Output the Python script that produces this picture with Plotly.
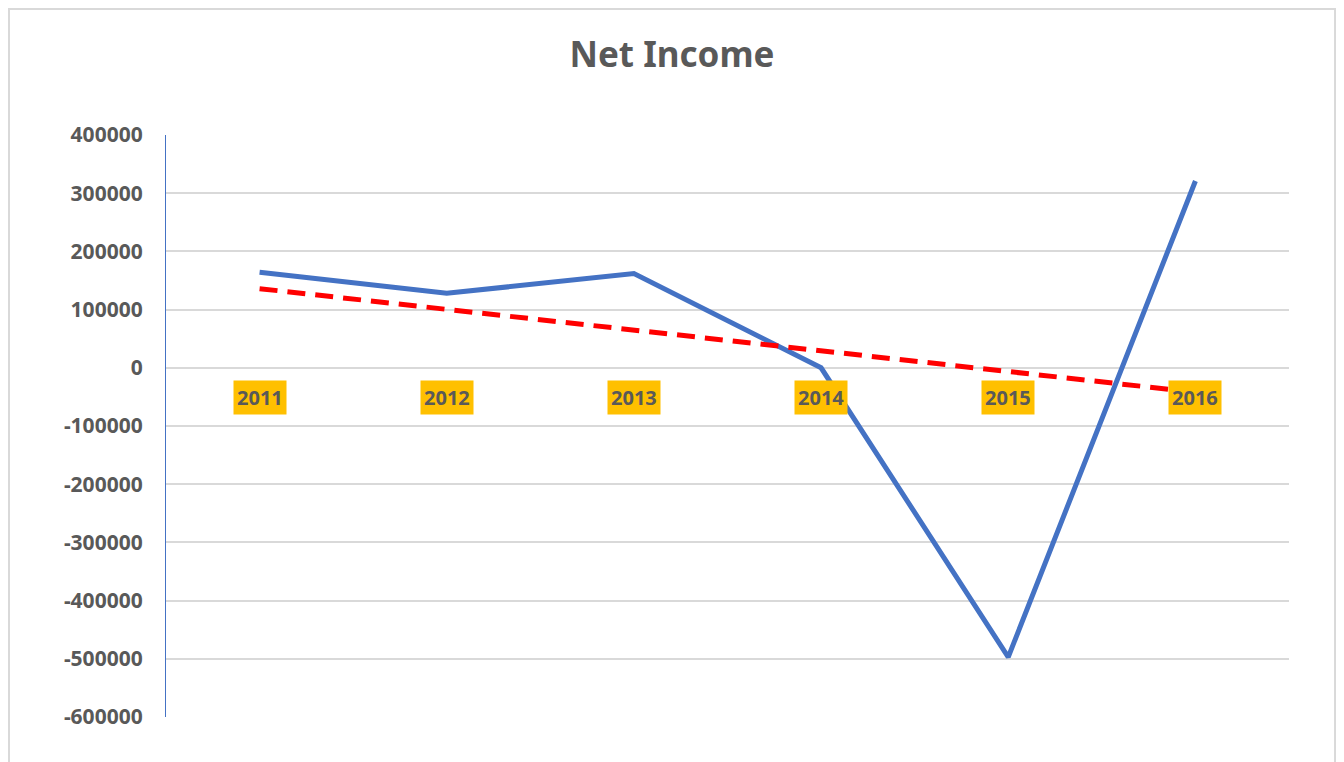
import plotly.graph_objects as go

years = ["2011", "2012", "2013", "2014", "2015", "2016"]
net_income = [164000, 128000, 162000, 0, -497000, 321000]

# linear trendline endpoints
trend_years = ["2011", "2016"]
trend_values = [136000, -42000]

y_ticks = [400000, 300000, 200000, 100000, 0, -100000, -200000, -300000, -400000, -500000, -600000]

TEXT = "#595959"
FONT = "Noto Sans"

fig = go.Figure()

fig.add_trace(
    go.Scatter(
        x=years,
        y=net_income,
        mode="lines",
        name="Net Income",
        line={"color": "#4472C4", "width": 5},
    )
)

fig.add_trace(
    go.Scatter(
        x=trend_years,
        y=trend_values,
        mode="lines",
        name="Linear (Net Income)",
        line={"color": "#FF0000", "width": 5, "dash": "18px,10px"},
    )
)

# category labels sit on the zero line with an orange fill
for i, yr in enumerate(years):
    fig.add_annotation(
        x=i,
        y=0,
        xref="x",
        yref="y",
        text=f"<b>{yr}</b>",
        showarrow=False,
        yshift=-30,
        yanchor="middle",
        bgcolor="#FFC000",
        borderpad=3,
        font={"family": FONT, "size": 20, "color": TEXT},
    )

# outer chart frame
fig.add_shape(
    type="rect",
    xref="paper",
    yref="paper",
    x0=-0.1398,
    x1=1.041,
    y0=-0.2,
    y1=1.2165,
    line={"color": "#D9D9D9", "width": 2},
    layer="below",
)

fig.update_layout(
    width=1328,
    height=754,
    margin={"l": 158, "r": 47, "t": 127, "b": 45},
    paper_bgcolor="white",
    plot_bgcolor="white",
    showlegend=False,
    title={
        "text": "<b>Net Income</b>",
        "x": (672 - 8) / 1328,
        "xanchor": "center",
        "y": 1 - 47 / 754,
        "yanchor": "middle",
        "font": {"family": FONT, "size": 35, "color": TEXT},
    },
    font={"family": FONT, "color": TEXT},
)

fig.update_xaxes(
    type="category",
    categoryorder="array",
    categoryarray=years,
    range=[-0.5, 5.5],
    showticklabels=False,
    showgrid=False,
    zeroline=False,
    showline=False,
)

fig.update_yaxes(
    range=[-600000, 400000],
    tickvals=y_ticks,
    ticktext=[f"<b>{v}</b>" for v in y_ticks],
    tickfont={"family": FONT, "size": 21, "color": TEXT},
    ticklabelstandoff=18,
    showgrid=True,
    gridcolor="#D9D9D9",
    gridwidth=1.5,
    zeroline=True,
    zerolinecolor="#D9D9D9",
    zerolinewidth=1.5,
    showline=True,
    linecolor="#4472C4",
    linewidth=1.2,
)

fig.write_html("out.html")
